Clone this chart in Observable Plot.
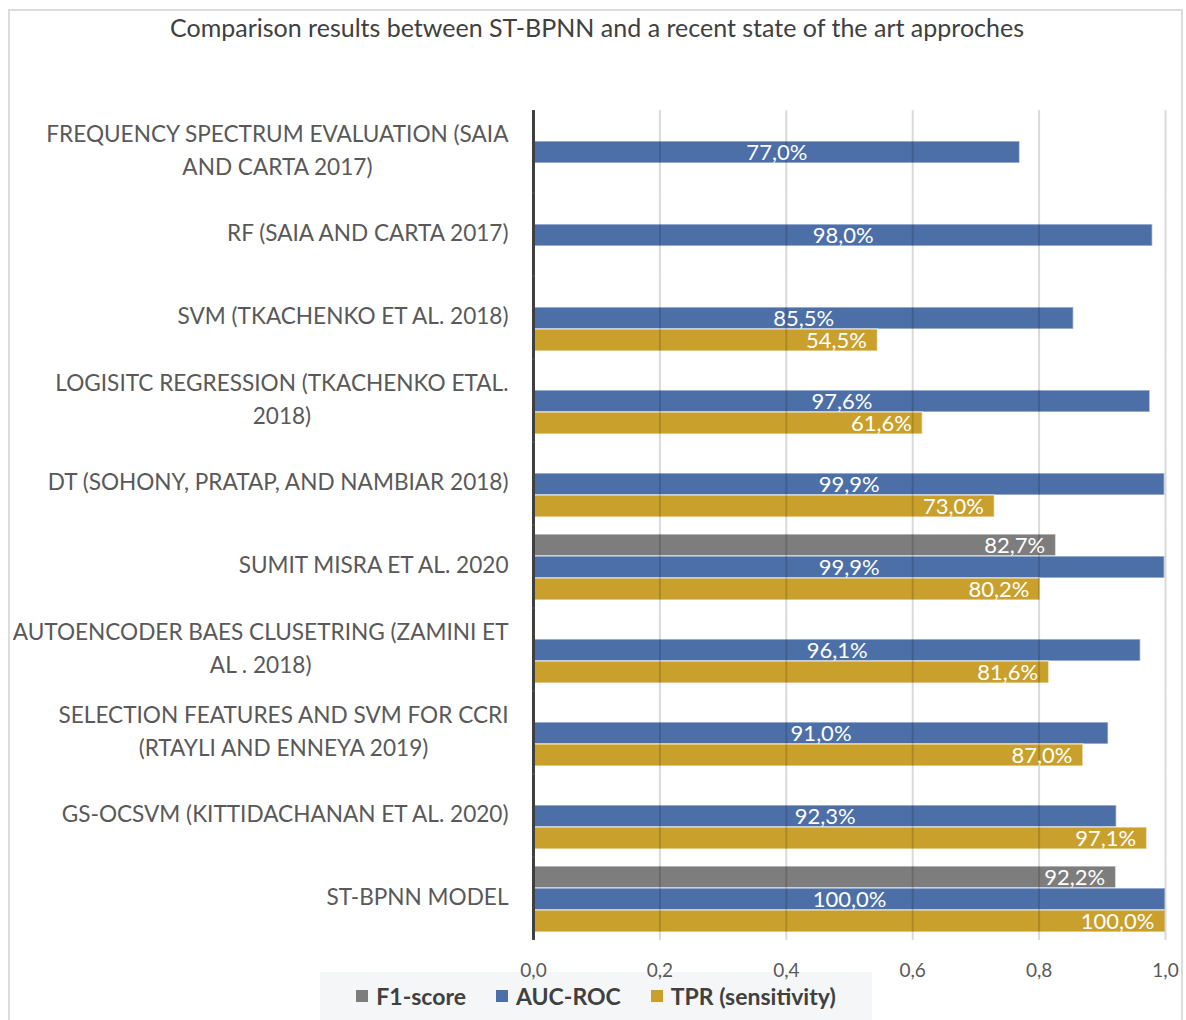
<!DOCTYPE html>
<html>
<head>
<meta charset="utf-8">
<script src="https://cdn.jsdelivr.net/npm/d3@7"></script>
<script src="https://cdn.jsdelivr.net/npm/@observablehq/plot@0.6"></script>
<style>
  body { margin: 0; background: #fff; font-family: Lato, "Open Sans", sans-serif; }
  #chart { position: relative; width: 1186px; height: 1020px; overflow: hidden; background: #fff; }
  #frame { position: absolute; left: 8px; top: 9px; width: 1175px; height: 1040px; border: 2px solid #dcdcdc; box-sizing: border-box; }
  #title { position: absolute; top: 12px; left: 8px; width: 1178px; text-align: center; font-size: 25px; color: #404040; }
  #legend { position: absolute; left: 320px; top: 972px; width: 552px; height: 48px; background: #f5f6f7;
            display: flex; align-items: center; justify-content: center; gap: 30px;
            font-weight: bold; font-size: 23px; color: #404040; }
  #plot { position: absolute; left: 0; top: 60px; }
  #legend .item { display: flex; align-items: center; }
  #legend .sw { display: inline-block; width: 12px; height: 12px; margin-right: 8px; }
</style>
</head>
<body>
<div id="chart">
  <div id="frame"></div>
  <div id="title">Comparison results between ST-BPNN and a recent state of the art approches</div>
  <div id="legend"></div>
  <div id="plot"></div>
</div>
<script>
// Models compared (top to bottom); "\n" marks where a long name wraps.
const categories = [
  "FREQUENCY SPECTRUM EVALUATION (SAIA\nAND CARTA 2017)",
  "RF (SAIA AND CARTA 2017)",
  "SVM (TKACHENKO ET AL. 2018)",
  "LOGISITC REGRESSION (TKACHENKO ETAL.\n2018)",
  "DT (SOHONY, PRATAP, AND NAMBIAR 2018)",
  "SUMIT MISRA ET AL. 2020",
  "AUTOENCODER BAES CLUSETRING (ZAMINI ET\nAL . 2018)",
  "SELECTION FEATURES AND SVM FOR CCRI\n(RTAYLI AND ENNEYA 2019)",
  "GS-OCSVM (KITTIDACHANAN ET AL. 2020)",
  "ST-BPNN MODEL"
];

// Metric names, in the order the bars are stacked inside each group.
const series = ["F1-score", "AUC-ROC", "TPR (sensitivity)"];
const seriesColors = ["#7d7d7d", "#4d6fa8", "#c9a02c"];

// Scores per model (null = not reported).
const f1Score = [null, null, null, null, null, 0.827, null, null, null, 0.922];
const aucRoc  = [0.770, 0.980, 0.855, 0.976, 0.999, 0.999, 0.961, 0.910, 0.923, 1.000];
const tpr     = [null, null, 0.545, 0.616, 0.730, 0.802, 0.816, 0.870, 0.971, 1.000];

// X axis ticks.
const xTicks = [0, 0.2, 0.4, 0.6, 0.8, 1.0];

// Long-format rows for Plot.
const columns = [f1Score, aucRoc, tpr];
const rows = categories.flatMap((model, i) =>
  series.map((metric, j) => ({model, metric, value: columns[j][i]}))
        .filter(d => d.value != null)
);

const pct = d => (d.value * 100).toFixed(1).replace(".", ",") + "%";
const dec = v => v.toFixed(1).replace(".", ",");

// Layout
const W = 1186, H = 925, mt = 48, mb = 43, ml = 533, mr = 21;
const groupPad = 0.19;
// half the gap between groups, so the rules can bridge it and run unbroken
const bridge = ((H - mt - mb) / categories.length) * groupPad / 2;

const chart = Plot.plot({
  width: W,
  height: H,
  marginLeft: ml,
  marginRight: mr,
  marginTop: mt,
  marginBottom: mb,
  style: {fontFamily: "Lato, 'Open Sans', sans-serif", background: "transparent", overflow: "visible"},
  x: {domain: [0, 1], axis: null},
  y: {domain: series, padding: 0, axis: null},
  fy: {domain: categories, paddingInner: groupPad, paddingOuter: groupPad / 2, axis: null},
  color: {domain: series, range: seriesColors},
  marks: [
    Plot.barX(rows, {
      fy: "model", y: "metric", x: "value", fill: "metric",
      stroke: "white", strokeOpacity: 0.55, strokeWidth: 1.5
    }),
    // vertical grid drawn over the bars
    Plot.ruleX(xTicks.slice(1), {
      stroke: "#000", strokeOpacity: 0.15, strokeWidth: 2,
      insetTop: -bridge, insetBottom: -bridge
    }),
    Plot.ruleX([0], {stroke: "#404040", strokeWidth: 3, insetTop: -bridge, insetBottom: -bridge}),
    Plot.axisX(xTicks, {
      label: null, tickSize: 0, tickPadding: 31, tickFormat: dec,
      fontSize: 19, fill: "#595959"
    }),
    // AUC-ROC values centred in the bar
    Plot.text(rows.filter(d => d.metric === "AUC-ROC"), {
      fy: "model", y: "metric", x: d => d.value / 2, text: pct,
      fill: "white", fontSize: 22
    }),
    // F1 and TPR values at the inside end of the bar
    Plot.text(rows.filter(d => d.metric !== "AUC-ROC"), {
      fy: "model", y: "metric", x: "value", text: pct,
      textAnchor: "end", dx: -11, fill: "white", fontSize: 22
    }),
    // model names to the left of each group
    Plot.text(categories, {
      fy: d => d, text: d => d, frameAnchor: "left", textAnchor: "end",
      dx: -25, dy: -4, fontSize: 22.6, lineHeight: 1.44, fill: "#595959"
    })
  ]
});

document.getElementById("plot").append(chart);

// Centre each wrapped model name under its widest line, keeping the block right-aligned.
chart.querySelectorAll("text").forEach(t => {
  const spans = t.querySelectorAll("tspan");
  if (spans.length < 2) return;
  const w = Math.max(...Array.from(spans, s => s.getComputedTextLength()));
  t.style.textAnchor = "middle";
  spans.forEach(s => s.setAttribute("x", String(-w / 2)));
});

// Legend
const legend = document.getElementById("legend");
series.forEach((name, i) => {
  const item = document.createElement("span");
  item.className = "item";
  const sw = document.createElement("span");
  sw.className = "sw";
  sw.style.background = seriesColors[i];
  item.append(sw, document.createTextNode(name));
  legend.append(item);
});
</script>
</body>
</html>
